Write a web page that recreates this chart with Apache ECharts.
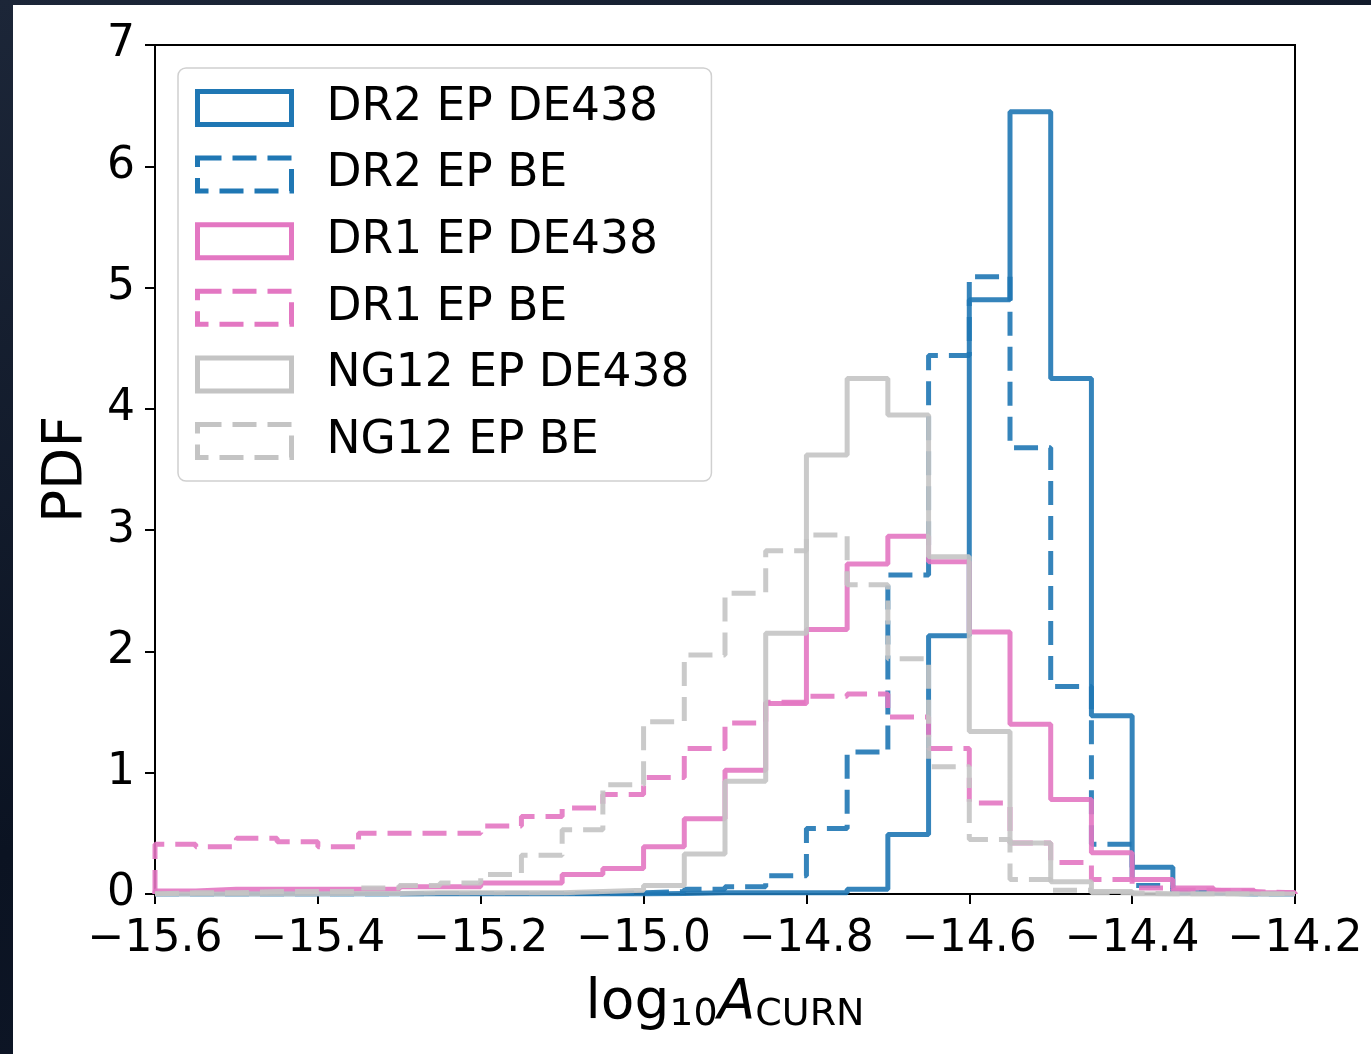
<!DOCTYPE html>
<html>
<head>
<meta charset="utf-8">
<script src="https://cdn.jsdelivr.net/npm/echarts@6/dist/echarts.min.js"></script>
<style>
  html, body { margin: 0; padding: 0; width: 1371px; height: 1054px; overflow: hidden;
    background: linear-gradient(160deg, #1c2638 0%, #0b1322 55%, #111a2c 100%); }
  #chart { position: absolute; left: 13px; top: 5px; width: 1358px; height: 1049px; background: #fff; }
</style>
</head>
<body>
<div id="chart"></div>
<script>
// histogram bin edges (log10 A_CURN), 0.05 wide
var binEdges = [-15.6, -15.55, -15.5, -15.45, -15.4, -15.35, -15.3, -15.25, -15.2, -15.15,
  -15.1, -15.05, -15.0, -14.95, -14.9, -14.85, -14.8, -14.75, -14.7, -14.65,
  -14.6, -14.55, -14.5, -14.45, -14.4, -14.35, -14.3, -14.25, -14.2];

// PDF per bin
var dr2De438 = [0, 0, 0, 0, 0, 0, 0, 0, 0, 0, 0, 0, 0.005, 0.01, 0.01, 0.01, 0.01, 0.04,
  0.49, 2.13, 4.90, 6.45, 4.25, 1.47, 0.22, 0.01, 0, 0];
var dr2Be = [0, 0, 0, 0, 0, 0, 0.005, 0.005, 0.005, 0.005, 0.005, 0.01, 0.02, 0.04, 0.06, 0.15,
  0.54, 1.17, 2.63, 4.44, 5.09, 3.68, 1.71, 0.41, 0.07, 0.01, 0, 0];
var dr1De438 = [0.025, 0.04, 0.04, 0.04, 0.04, 0.04, 0.06, 0.06, 0.09, 0.09, 0.16, 0.21, 0.39,
  0.62, 1.02, 1.57, 2.18, 2.72, 2.95, 2.74, 2.16, 1.40, 0.78, 0.34, 0.12, 0.05, 0.03, 0.01];
var dr1Be = [0.41, 0.39, 0.46, 0.43, 0.39, 0.50, 0.50, 0.50, 0.56, 0.64, 0.71, 0.82, 0.96,
  1.20, 1.41, 1.58, 1.63, 1.65, 1.46, 1.20, 0.75, 0.42, 0.26, 0.12, 0.05, 0.03, 0.02, 0.01];
var ng12De438 = [0, 0, 0, 0, 0.005, 0.005, 0.01, 0.01, 0.01, 0.01, 0.02, 0.03, 0.07, 0.33,
  0.93, 2.15, 3.62, 4.25, 3.95, 2.78, 1.34, 0.42, 0.10, 0.02, 0, 0, 0, 0];
var ng12Be = [0.01, 0.01, 0.02, 0.02, 0.02, 0.05, 0.07, 0.09, 0.16, 0.32, 0.53, 0.90, 1.42,
  1.97, 2.48, 2.83, 2.96, 2.55, 1.94, 1.05, 0.45, 0.12, 0.03, 0.01, 0, 0, 0, 0];

var seriesNames = ['DR2 EP DE438', 'DR2 EP BE', 'DR1 EP DE438', 'DR1 EP BE', 'NG12 EP DE438', 'NG12 EP BE'];
var seriesValues = [dr2De438, dr2Be, dr1De438, dr1Be, ng12De438, ng12Be];
var seriesColors = ['#1f77b4', '#1f77b4', '#e377c2', '#e377c2', '#c4c4c4', '#c4c4c4'];
var seriesDashed = [false, true, false, true, false, true];

var FONT = '"DejaVu Sans", sans-serif';
var DASH = [24, 11];

// step outline like matplotlib histtype='step'
function stepPoints(vals) {
  var pts = [[binEdges[0], 0]];
  for (var i = 0; i < vals.length; i++) {
    pts.push([binEdges[i], vals[i]]);
  }
  var last = binEdges.length - 1;
  pts.push([binEdges[last], vals[vals.length - 1]]);
  pts.push([binEdges[last], 0]);
  return pts;
}

var series = [];
var legendData = [];
for (var k = 0; k < seriesNames.length; k++) {
  series.push({
    name: seriesNames[k],
    type: 'line',
    step: 'end',
    showSymbol: false,
    symbol: 'none',
    silent: true,
    data: stepPoints(seriesValues[k]),
    itemStyle: { color: seriesColors[k] },
    lineStyle: {
      color: seriesColors[k],
      width: 5,
      opacity: 0.9,
      type: seriesDashed[k] ? DASH : 'solid'
    }
  });
  legendData.push({
    name: seriesNames[k],
    itemStyle: {
      color: 'rgba(0,0,0,0)',
      borderColor: seriesColors[k],
      borderWidth: 5,
      borderType: seriesDashed[k] ? DASH : 'solid'
    }
  });
}

var myChart = echarts.init(document.getElementById('chart'));
var option = {
  animation: false,
  backgroundColor: '#fff',
  textStyle: { fontFamily: FONT },
  grid: {
    left: 142, top: 40, width: 1140, height: 849,
    show: true, borderColor: '#000', borderWidth: 2, backgroundColor: '#fff'
  },
  legend: {
    orient: 'vertical',
    left: 165, top: 63,
    icon: 'rect',
    itemWidth: 94, itemHeight: 33,
    itemGap: 20.6,
    selectedMode: false,
    backgroundColor: 'rgba(255,255,255,0.85)',
    borderColor: '#d0d0d0', borderWidth: 1.5, borderRadius: 8,
    padding: [17, 22, 17, 17],
    textStyle: { fontFamily: FONT, fontSize: 45.5, color: '#000', lineHeight: 40, padding: [0, 0, 0, 30] },
    data: legendData
  },
  xAxis: {
    type: 'value',
    min: -15.6, max: -14.2, interval: 0.2,
    name: '{a|log}{b|10}{c|A}{b|CURN}',
    nameLocation: 'middle',
    nameGap: 80,
    nameTextStyle: {
      rich: {
        a: { fontFamily: FONT, fontSize: 55, color: '#000' },
        b: { fontFamily: FONT, fontSize: 38, color: '#000', padding: [22, 0, 0, 0] },
        c: { fontFamily: FONT, fontSize: 55, color: '#000', fontStyle: 'italic' }
      }
    },
    splitLine: { show: false },
    axisLine: { onZero: false, lineStyle: { color: '#000', width: 2 } },
    axisTick: { length: 10, lineStyle: { color: '#000', width: 2 } },
    axisLabel: {
      fontFamily: FONT, fontSize: 44, color: '#000', margin: 24,
      formatter: function (v) { return v.toFixed(1).replace('-', '\u2212'); }
    }
  },
  yAxis: {
    type: 'value',
    min: 0, max: 7, interval: 1,
    name: 'PDF',
    nameLocation: 'middle',
    nameGap: 61,
    nameTextStyle: { fontFamily: FONT, fontSize: 55, color: '#000' },
    splitLine: { show: false },
    axisLine: { show: true, lineStyle: { color: '#000', width: 2 } },
    axisTick: { show: true, length: 10, lineStyle: { color: '#000', width: 2 } },
    axisLabel: { fontFamily: FONT, fontSize: 44, color: '#000', margin: 20 }
  },
  series: series
};
myChart.setOption(option);
</script>
</body>
</html>
